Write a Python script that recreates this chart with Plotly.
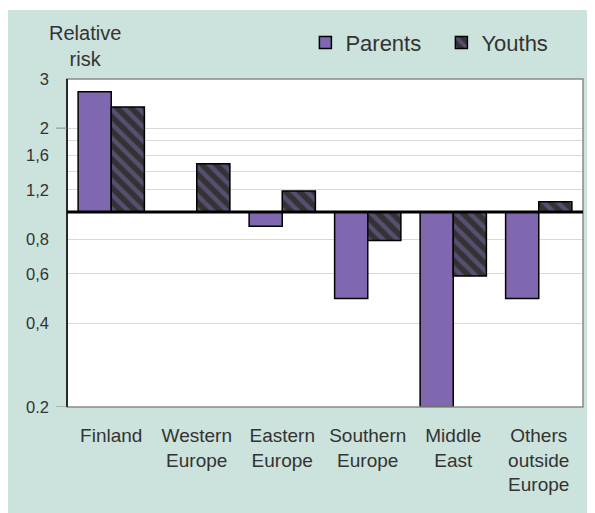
import plotly.graph_objects as go

categories = ["Finland", "Western<br>Europe", "Eastern<br>Europe", "Southern<br>Europe",
              "Middle<br>East", "Others<br>outside<br>Europe"]
parents = [2.70, 1.0, 0.89, 0.49, 0.2, 0.49]
youths = [2.38, 1.49, 1.19, 0.79, 0.59, 1.09]
baseline = 1.0
tick_vals = [0.2, 0.4, 0.6, 0.8, 1, 1.2, 1.4, 1.6, 1.8, 2, 3]
tick_text = ["0.2", "0,4", "0,6", "0,8", "", "1,2", "", "1,6", "", "2", "3"]

PURPLE = "#7F68B0"
DARK = "#333333"
GREEN = "#CCE2DC"
FONT = "Liberation Sans, Arial, sans-serif"

fig = go.Figure()
fig.add_trace(go.Bar(
    name="Parents", x=categories, y=[v - baseline for v in parents], base=baseline,
    marker=dict(color=PURPLE, line=dict(color="black", width=1.5)),
))
fig.add_trace(go.Bar(
    name="Youths", x=categories, y=[v - baseline for v in youths], base=baseline,
    marker=dict(color=DARK, line=dict(color="black", width=1.5),
                pattern=dict(shape="\\", bgcolor=DARK, fgcolor=PURPLE, size=10, solidity=0.45)),
))

shapes = [
    dict(type="rect", xref="paper", yref="paper", x0=-0.3, x1=1.2, y0=1.2104, y1=1.3,
         fillcolor="white", line_width=0, layer="below"),
    dict(type="rect", xref="paper", yref="paper", x0=0, x1=1, y0=0, y1=1,
         line=dict(color="#8a8a8a", width=1.5), layer="above"),
    dict(type="line", xref="paper", yref="paper", x0=0, x1=0, y0=0, y1=1,
         line=dict(color="black", width=1.5), layer="above"),
    dict(type="line", xref="paper", yref="y", x0=0, x1=1, y0=baseline, y1=baseline,
         line=dict(color="black", width=3), layer="above"),
]
for i in range(len(categories) + 1):
    shapes.append(dict(type="line", xref="x", yref="y", ysizemode="pixel", yanchor=baseline,
                       x0=i - 0.5, x1=i - 0.5, y0=0, y1=-6,
                       line=dict(color="black", width=3), layer="above"))
for v in (2, 0.2):
    shapes.append(dict(type="line", xref="paper", yref="y", xsizemode="pixel", xanchor=0,
                       x0=-11, x1=0, y0=v, y1=v, line=dict(color="#8a8a8a", width=1)))

fig.update_layout(
    width=587, height=505,
    margin=dict(l=59, r=12, t=71, b=106, autoexpand=False),
    paper_bgcolor=GREEN, plot_bgcolor="white",
    font=dict(family=FONT, color="#333333"),
    barmode="group", bargap=0.225, bargroupgap=0,
    showlegend=True,
    legend=dict(orientation="h", x=0.462, xanchor="left", y=1.175, yanchor="top",
                font=dict(size=22, color="#333333"), bgcolor="rgba(0,0,0,0)",
                itemwidth=30, entrywidth=91, entrywidthmode="pixels", traceorder="normal"),
    shapes=shapes,
    annotations=[dict(text="Relative<br>risk", xref="paper", yref="paper", x=0.035, y=1.1016,
                      xanchor="center", yanchor="middle", showarrow=False,
                      font=dict(size=20, color="#333333"))],
)
fig.update_xaxes(showgrid=False, showline=False, ticks="", tickfont=dict(size=19),
                 ticklabelstandoff=15, automargin=False)
fig.update_yaxes(type="log", range=[-0.69897, 0.47712], tickvals=tick_vals, ticktext=tick_text,
                 showgrid=True, gridcolor="#d9d9d9", gridwidth=1, zeroline=False,
                 showline=False, ticks="", tickfont=dict(size=16.5), ticklabelstandoff=17,
                 automargin=False)

fig.write_html("out.html")
